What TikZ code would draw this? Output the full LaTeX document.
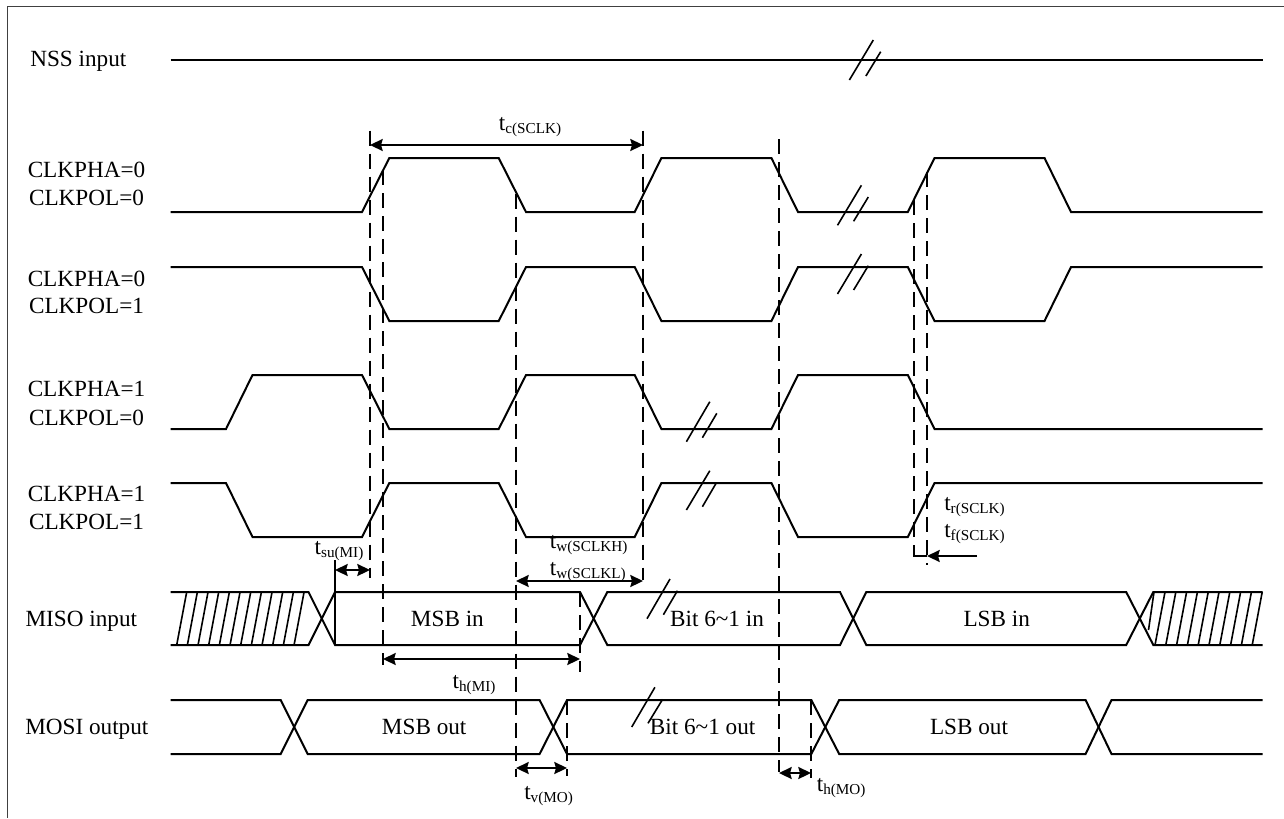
\documentclass[tikz,border=0pt]{standalone}
\usepackage{fontspec}
\setmainfont{Liberation Serif}
\usetikzlibrary{arrows.meta}
\newcommand{\tlab}[1]{\fontsize{17.4}{20}\selectfont t\raisebox{-2.4pt}{\fontsize{11.4}{13}\selectfont #1}}
\tikzset{
  sig/.style={line width=1.5pt,black,line join=miter},
  thin sig/.style={line width=1.2pt,black},
  brk/.style={line width=1.2pt,black},
  dsh/.style={line width=1.5pt,black,dash pattern=on 11.5pt off 5.75pt},
  dim/.style={line width=1.5pt,black,{Stealth[length=9.5pt,width=9pt,inset=1.2pt]}-{Stealth[length=9.5pt,width=9pt,inset=1.2pt]}},
  dimone/.style={line width=1.5pt,black,-{Stealth[length=9.5pt,width=9pt,inset=1.2pt]}},
  lab/.style={inner sep=0pt,anchor=base west,font=\fontsize{17.4}{20}\selectfont},
  clab/.style={inner sep=0pt,anchor=base,font=\fontsize{17.4}{20}\selectfont},
  tl/.style={inner sep=0pt,anchor=base west}
}
\begin{document}
\begin{tikzpicture}[x=0.75pt,y=-0.75pt]
\useasboundingbox (0,0) rectangle (1284,818);
\fill[white] (0,0) rectangle (1284,818);
\draw[line width=0.9pt,black!75] (1284,6.5) -- (7.5,6.5) -- (7.5,818);
% labels
\node[lab] (nss) at (30,66.7) {NSS input};
\node[clab] (p1) at (86.5,177.7) {CLKPHA=0};
\node[clab] (q1) at (86.5,205.7) {CLKPOL=0};
\node[clab] (p2) at (86.5,286) {CLKPHA=0};
\node[clab] (q2) at (86.5,313.3) {CLKPOL=1};
\node[clab] (p3) at (86.5,396.7) {CLKPHA=1};
\node[clab] (q3) at (86.5,425) {CLKPOL=0};
\node[clab] (p4) at (86.5,501.7) {CLKPHA=1};
\node[clab] (q4) at (86.5,529) {CLKPOL=1};
\node[lab] (miso) at (25.3,626) {MISO input};
\node[lab] (mosi) at (25,734) {MOSI output};
\node[clab] (msbi) at (447.4,626) {MSB in};
\node[clab] (biti) at (717,626) {Bit 6\textasciitilde1 in};
\node[clab] (lsbi) at (996.7,626) {LSB in};
\node[clab] (msbo) at (424.2,734) {MSB out};
\node[clab] (bito) at (702.6,734) {Bit 6\textasciitilde1 out};
\node[clab] (lsbo) at (969,734) {LSB out};
\node[tl] (tc) at (498.7,130.7) {\tlab{c(SCLK)}};
\node[tl] (tsu) at (314.4,554) {\tlab{su(MI)}};
\node[tl] (twh) at (549.7,548.3) {\tlab{w(SCLKH)}};
\node[tl] (twl) at (549.7,575.7) {\tlab{w(SCLKL)}};
\node[tl] (thmi) at (452.4,688) {\tlab{h(MI)}};
\node[tl] (tv) at (524,799.3) {\tlab{v(MO)}};
\node[tl] (thmo) at (816.6,791) {\tlab{h(MO)}};
\node[tl] (tr) at (944,510) {\tlab{r(SCLK)}};
\node[tl] (tf) at (944,537.7) {\tlab{f(SCLK)}};
% signals
\draw[sig] (170.5,60) -- (1262.5,60);
\draw[sig] (170.5,212) -- (362,212) -- (389.3,158) -- (498.7,158) -- (526,212) -- (634.7,212) -- (661.4,158) -- (771.4,158) -- (798,212) -- (907.8,212) -- (934.5,158) -- (1044.5,158) -- (1071,212) -- (1262.5,212);
\draw[sig] (170.5,267) -- (362,267) -- (389.3,321) -- (498.7,321) -- (526,267) -- (634.7,267) -- (661.4,321) -- (771.4,321) -- (798,267) -- (907.8,267) -- (934.5,321) -- (1044.5,321) -- (1071,267) -- (1262.5,267);
\draw[sig] (170.5,429) -- (226,429) -- (252.5,375) -- (362,375) -- (389.3,429) -- (498.7,429) -- (526,375) -- (634.7,375) -- (661.4,429) -- (771.4,429) -- (798,375) -- (907.8,375) -- (934.5,429) -- (1262.5,429);
\draw[sig] (170.5,483) -- (226,483) -- (252.5,537) -- (362,537) -- (389.3,483) -- (498.7,483) -- (526,537) -- (634.7,537) -- (661.4,483) -- (771.4,483) -- (798,537) -- (907.8,537) -- (934.5,483) -- (1262.5,483);
% MISO
\draw[sig] (170.5,592) -- (308.5,592) -- (335,645) -- (580,645) -- (607.3,592) -- (840,592) -- (866.3,645) -- (1126.2,645) -- (1153.3,592) -- (1262.5,592);
\draw[sig] (170.5,645) -- (308.5,645) -- (335,592) -- (580,592) -- (607.3,645) -- (840,645) -- (866.3,592) -- (1126.2,592) -- (1153.3,645) -- (1262.5,645);
% hatch
\foreach \i in {0,...,11}{
  \draw[thin sig] ({176.7+\i*10.67},645) -- ({186.7+\i*10.67},592);
}
\draw[thin sig] (1148.5,630) -- (1154,592);
\foreach \i in {0,...,9}{
  \draw[thin sig] ({1155+\i*10.8},645) -- ({1165+\i*10.8},592);
}
% MOSI
\draw[sig] (170.5,700) -- (280.7,700) -- (307.7,754) -- (539.6,754) -- (567,700) -- (811.3,700) -- (839.2,754) -- (1085.6,754) -- (1111.5,700) -- (1262.5,700);
\draw[sig] (170.5,754) -- (280.7,754) -- (307.7,700) -- (539.6,700) -- (567,754) -- (811.3,754) -- (839.2,700) -- (1085.6,700) -- (1111.5,754) -- (1262.5,754);
% break marks
\draw[brk] (849.4,80) -- (873.3,40) (865.9,76) -- (880.7,51.7);
\draw[brk] (837.5,225.3) -- (861.4,185.3) (853.6,221.3) -- (868.3,197);
\draw[brk] (837.5,294) -- (861.4,254) (853.6,290) -- (868.3,265.7);
\draw[brk] (686.4,441.7) -- (709.8,401.7) (702.4,437.7) -- (716.8,413.3);
\draw[brk] (686.4,510) -- (709.8,470.7) (702.4,506.7) -- (716.4,482.7);
\draw[brk] (647,618.7) -- (670,579) (663.4,614.7) -- (677.4,590.7);
\draw[brk] (631.7,727) -- (654.9,687.3) (648,723.3) -- (662.6,699.3);
% dashed guides
\draw[dsh] (370,130.7) -- (370,578);
\draw[dsh] (383,170) -- (383,665);
\draw[dsh] (516,193.7) -- (516,776.7);
\draw[dsh] (643,130.7) -- (643,580);
\draw[dsh] (779,139) -- (779,771.7);
\draw[dsh] (914,200) -- (914,556.7);
\draw[dsh] (927,172) -- (927,565);
\draw[dsh] (580,592) -- (580,671.7);
\draw[dsh] (567,700) -- (567,776);
\draw[dsh] (811,700) -- (811,778);
\draw[sig] (335,560) -- (335,645);
% dimensions
\draw[dim] (370,145) -- (643,145);
\draw[dim] (335,570) -- (370,570);
\draw[dim] (516,581) -- (643,581);
\draw[dim] (383,659) -- (580,659);
\draw[dim] (516,768) -- (567,768);
\draw[dim] (779,773) -- (811,773);
\draw[dimone] (977,556) -- (927,556);
\draw[line width=1.5pt] (914,556) -- (927,556);
\end{tikzpicture}
\end{document}
